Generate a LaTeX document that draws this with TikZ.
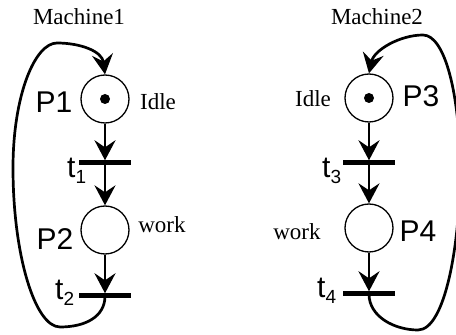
\documentclass[tikz,border=0pt]{standalone}
\usepackage{fontspec}
\setmainfont{Liberation Serif}
\newfontfamily\arialf{Liberation Sans}
\usetikzlibrary{arrows.meta}
\tikzset{
  place/.style={circle, draw, line width=1.3pt, minimum size=48pt, inner sep=0pt},
  trans/.style={rectangle, fill=black, minimum width=52pt, minimum height=5pt, inner sep=0pt},
  arc/.style={line width=2.7pt, -{Stealth[length=20pt, width=21pt, inset=7pt]}},
  plabel/.style={font=\arialf\fontsize{30}{30}\selectfont, inner sep=0pt, anchor=base},
  tlabel/.style={font=\arialf\fontsize{30}{30}\selectfont, inner sep=0pt, anchor=base west},
  wlabel/.style={font=\fontsize{23}{23}\selectfont, inner sep=0pt, anchor=base},
  token/.style={circle, fill=black, minimum size=10pt, inner sep=0pt}
}
\newcommand{\tsub}[1]{t\raisebox{-6pt}{\fontsize{19}{19}\selectfont #1}}
\begin{document}
\begin{tikzpicture}[x=1pt, y=1pt]
\useasboundingbox (0,0) rectangle (456,335);
\begin{scope}
\clip (0,0) rectangle (456,335);
% left net
\node[place] (P1) at (105,236) {};
\node[token] (k1) at (P1.center) {};
\node[trans] (t1) at (105,172) {};
\node[place] (P2) at (105,105) {};
\node[trans] (t2) at (105,39) {};
% right net
\node[place] (P3) at (369,237) {};
\node[token] (k3) at (P3.center) {};
\node[trans] (t3) at (369,172) {};
\node[place] (P4) at (369,107) {};
\node[trans] (t4) at (369,41) {};

% arcs left
\draw[arc] (P1.south) -- (t1.north);
\draw[arc] (t1.center) -- (P2.north);
\draw[arc] (P2.south) -- (t2.north);
\coordinate (lb) at (60,8);
\coordinate (ll) at (13,167);
\coordinate (lt) at (57,292);
\draw[arc] (t2.center) .. controls (105,18) and (85,8) .. (lb)
  .. controls (35,8) and (13,80) .. (ll)
  .. controls (13,240) and (35,292) .. (lt)
  .. controls (80,292) and (102,284) .. (P1.north);
% arcs right
\draw[arc] (P3.south) -- (t3.north);
\draw[arc] (t3.center) -- (P4.north);
\draw[arc] (P4.south) -- (t4.north);
\coordinate (rb) at (418,5);
\coordinate (rr) at (460,165);
\coordinate (rt) at (423,300);
\draw[arc] (t4.center) .. controls (369,18) and (395,5) .. (rb)
  .. controls (445,5) and (460,90) .. (rr)
  .. controls (460,240) and (445,300) .. (rt)
  .. controls (400,300) and (374,285) .. (P3.north);
% redraw bars on top
\node[trans] at (t1) {};
\node[trans] at (t2) {};
\node[trans] at (t3) {};
\node[trans] at (t4) {};
\end{scope}

% labels
\node[wlabel] (m1) at (79,310) {Machine1};
\node[wlabel] (m2) at (377,310) {Machine2};
\node[plabel] (lP1) at (54,222) {P1};
\node[plabel] (lP2) at (55,85) {P2};
\node[plabel] (lP3) at (421,228) {P3};
\node[plabel] (lP4) at (418,93) {P4};
\node[wlabel] (i1) at (158,225) {Idle};
\node[wlabel] (i3) at (313,228) {Idle};
\node[wlabel] (w2) at (162,102) {work};
\node[wlabel] (w4) at (297,95) {work};
\node[tlabel] (lt1) at (67,157) {\tsub{1}};
\node[tlabel] (lt2) at (55,35) {\tsub{2}};
\node[tlabel] (lt3) at (322,157) {\tsub{3}};
\node[tlabel] (lt4) at (317,37) {\tsub{4}};
\end{tikzpicture}
\end{document}
